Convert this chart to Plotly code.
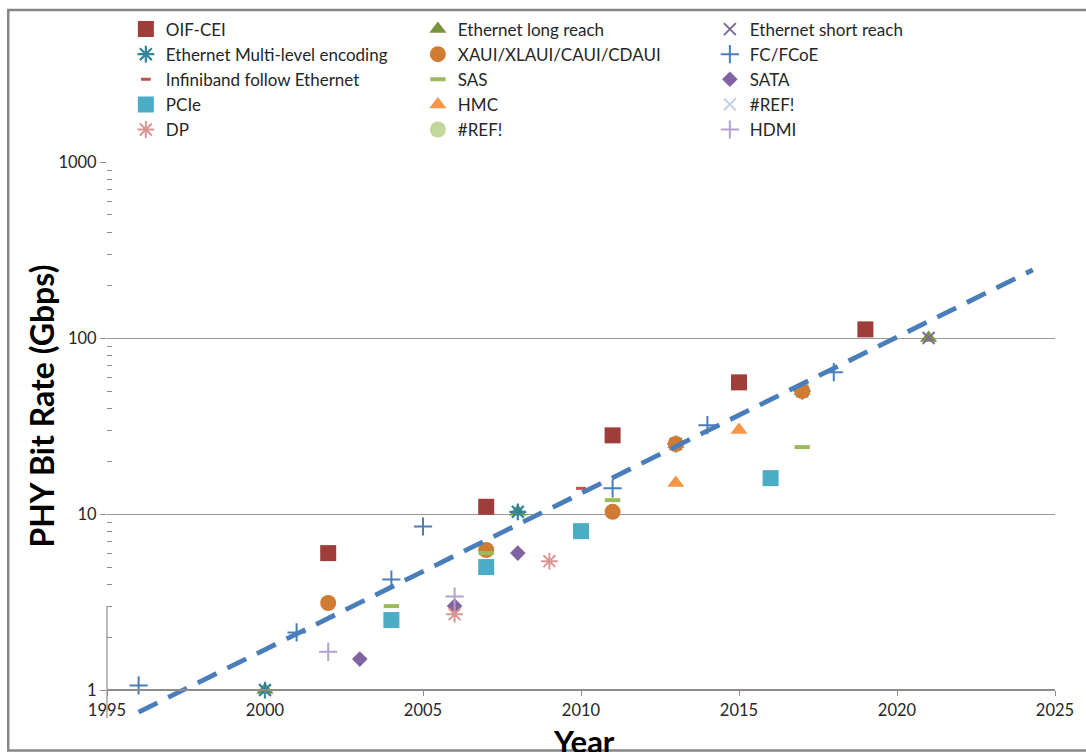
import plotly.graph_objects as go

# ---------------- data ----------------
oif_years = [2002, 2007, 2011, 2015, 2019]
oif_rates = [6, 11, 28, 56, 112]
eth_long_years = [2000, 2008, 2013, 2017, 2021]
eth_long_rates = [1, 10.3, 25, 50, 100]
eth_short_years = [2021]
eth_short_rates = [100]
eth_ml_years = [2000, 2008, 2013, 2017]
eth_ml_rates = [1, 10.3, 25, 50]
xaui_years = [2002, 2007, 2011, 2013, 2017]
xaui_rates = [3.125, 6.25, 10.3, 25, 50]
fc_years = [1996, 2001, 2004, 2005, 2011, 2014, 2018]
fc_rates = [1.0625, 2.125, 4.25, 8.5, 14, 32, 64]
ib_years = [2010]
ib_rates = [14]
sas_years = [2004, 2007, 2011, 2017]
sas_rates = [3, 6, 12, 24]
sata_years = [2003, 2006, 2008]
sata_rates = [1.5, 3, 6]
pcie_years = [2004, 2007, 2010, 2016]
pcie_rates = [2.5, 5, 8, 16]
hmc_years = [2013, 2015]
hmc_rates = [15, 30]
ref1_years = [None]      # "#REF!" series: no values
ref1_rates = [None]
dp_years = [2006, 2009]
dp_rates = [2.7, 5.4]
ref2_years = [None]      # "#REF!" series: no values
ref2_rates = [None]
hdmi_years = [2002, 2006]
hdmi_rates = [1.65, 3.4]
trend_years = [1996, 2024.3]
trend_rates = [0.75, 244]

x_ticks = [1995, 2000, 2005, 2010, 2015, 2020, 2025]
y_ticks = [1, 10, 100, 1000]
y_tick_text = ["1", "10", "100", "1000"]

# ---------------- geometry (reference pixels) ----------------
W, H = 1086, 752
L, R = 107, 1062
TOP = 160          # pixel of 1000
Y1 = 690           # pixel of 1
BOT = 718          # bottom of plotting area (below 1 so the trend line shows)
decade = (Y1 - TOP) / 3.0
ylo = -(BOT - Y1) / decade
ph = BOT - TOP
pw = R - L


def py(px):
    return (BOT - px) / ph


def pxp(px):
    return (px - L) / pw


FONT = "Lato"
GRAY = "#8c8c8c"

series = [
    ("OIF-CEI", oif_years, oif_rates, dict(symbol="square", size=16, color="#9E3D3A")),
    ("Ethernet long reach", eth_long_years, eth_long_rates, dict(symbol="triangle-up", size=15, color="#77933C")),
    ("Ethernet short reach", eth_short_years, eth_short_rates,
     dict(symbol="x-thin-open", size=12, color="#7E6A9E", line=dict(width=2, color="#7E6A9E"))),
    ("Ethernet Multi-level encoding", eth_ml_years, eth_ml_rates,
     dict(symbol="asterisk-open", size=14, color="#31859C", line=dict(width=2.2, color="#31859C"))),
    ("XAUI/XLAUI/CAUI/CDAUI", xaui_years, xaui_rates, dict(symbol="circle", size=16, color="#D07B34")),
    ("FC/FCoE", fc_years, fc_rates,
     dict(symbol="cross-thin-open", size=13, color="#4A7EBB", line=dict(width=2, color="#4A7EBB"))),
    ("Infiniband follow Ethernet", ib_years, ib_rates,
     dict(symbol="line-ew-open", size=7, color="#C0504D", line=dict(width=3, color="#C0504D"))),
    ("SAS", sas_years, sas_rates,
     dict(symbol="line-ew-open", size=11, color="#9BBB59", line=dict(width=4, color="#9BBB59"))),
    ("SATA", sata_years, sata_rates, dict(symbol="diamond", size=12, color="#8064A2")),
    ("PCIe", pcie_years, pcie_rates, dict(symbol="square", size=16, color="#4BACC6")),
    ("HMC", hmc_years, hmc_rates, dict(symbol="triangle-up", size=15, color="#F79646")),
    ("#REF!", ref1_years, ref1_rates,
     dict(symbol="x-thin-open", size=12, color="#C3CCE6", line=dict(width=2, color="#C3CCE6"))),
    ("DP", dp_years, dp_rates,
     dict(symbol="asterisk-open", size=14, color="#DA9694", line=dict(width=2, color="#DA9694"))),
    ("#REF!", ref2_years, ref2_rates, dict(symbol="circle", size=16, color="#C3D69B")),
    ("HDMI", hdmi_years, hdmi_rates,
     dict(symbol="cross-thin-open", size=13, color="#B3A2C7", line=dict(width=2, color="#B3A2C7"))),
]

fig = go.Figure()
for name, xs, ys, mk in series:
    fig.add_trace(go.Scatter(x=xs, y=ys, mode="markers", name=name, marker=mk,
                             cliponaxis=False))

fig.add_trace(go.Scatter(x=trend_years, y=trend_rates, mode="lines", showlegend=False,
                         line=dict(color="#4A7EBB", width=4.8, dash="21px,12px")))

minor_vals = [m * d for d in (1, 10, 100) for m in range(2, 10)]

fig.update_layout(
    width=W, height=H,
    margin=dict(l=L, r=W - R, t=TOP, b=H - BOT, pad=0),
    paper_bgcolor="white", plot_bgcolor="white",
    font=dict(family=FONT, color="#262626", size=15),
    showlegend=True,
    legend=dict(orientation="h", x=pxp(126), y=py(9), xanchor="left", yanchor="top",
                entrywidth=247, font=dict(size=17, family=FONT, color="#262626"),
                bgcolor="rgba(0,0,0,0)", itemsizing="trace", traceorder="normal"),
    xaxis=dict(range=[1995, 2025], tickvals=x_ticks, showgrid=False, zeroline=False,
               showline=True, linecolor=GRAY, linewidth=1.5,
               ticks="outside", ticklen=5, tickcolor=GRAY, tickwidth=1.2,
               tickfont=dict(size=16.5, family=FONT, color="#262626"),
               anchor="free", position=(BOT - Y1) / ph),
    yaxis=dict(type="log", range=[ylo, 3], tickvals=y_ticks, ticktext=y_tick_text,
               showgrid=True, gridcolor="#9a9a9a", gridwidth=1.4, zeroline=False,
               showline=False, ticks="outside", ticklen=6, tickcolor=GRAY,
               tickfont=dict(size=16.5, family=FONT, color="#262626"),
               minor=dict(tickvals=minor_vals, ticks="inside", ticklen=5, tickcolor=GRAY,
                          showgrid=False)),
    shapes=[
        dict(type="line", xref="paper", yref="y", x0=0, x1=0, y0=0, y1=3,
             line=dict(color=GRAY, width=1.2)),
        dict(type="rect", xref="paper", yref="paper", x0=pxp(7.5), x1=pxp(1100),
             y0=py(750.5), y1=py(7.5), line=dict(color="#868686", width=2.5), layer="above"),
    ],
    annotations=[
        dict(text="<b>PHY Bit Rate (Gbps)</b>", textangle=-90, xref="paper", yref="paper",
             x=pxp(41), y=py(405), xanchor="center", yanchor="middle", showarrow=False,
             font=dict(size=32, family=FONT, color="black")),
        dict(text="<b>Year</b>", xref="paper", yref="paper", x=pxp(588), y=py(741),
             xanchor="center", yanchor="middle", showarrow=False,
             font=dict(size=31, family=FONT, color="black")),
    ],
)

# remove the browser's default 8px page margin so the figure sits at the window origin,
# and keep the page exactly the window's size
fig.write_html(
    "out.html", config={"displayModeBar": False},
    post_script=(
        "document.documentElement.style.margin='0';"
        "document.documentElement.style.overflow='hidden';"
        "document.body.style.margin='0';document.body.style.overflow='hidden';"
        "document.body.style.width='1086px';document.body.style.height='752px';"
    ),
)
